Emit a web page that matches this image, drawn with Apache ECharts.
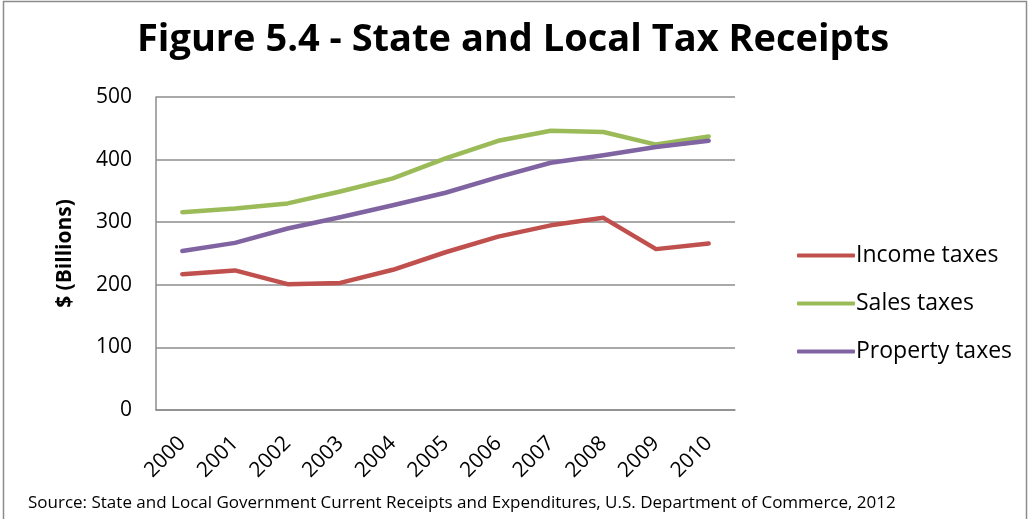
<!DOCTYPE html>
<html>
<head>
<meta charset="utf-8">
<script src="https://cdn.jsdelivr.net/npm/echarts@6/dist/echarts.min.js"></script>
<style>
  html, body { margin: 0; padding: 0; background: #fff; }
  #chart { width: 1029px; height: 519px; }
</style>
</head>
<body>
<div id="chart"></div>
<script>
// State and local tax receipts, $ billions
const years = ['2000','2001','2002','2003','2004','2005','2006','2007','2008','2009','2010'];
const incomeTaxes   = [217, 223, 201, 203, 224, 252, 277, 295, 307, 257, 266];
const salesTaxes    = [316, 322, 330, 349, 370, 402, 430, 446, 444, 424, 437];
const propertyTaxes = [254, 267, 290, 308, 327, 347, 372, 395, 407, 420, 430];
const yTicks = { min: 0, max: 500, interval: 100 };

const FONT = 'Open Sans';
const chart = echarts.init(document.getElementById('chart'));

function lineSeries(name, data, color) {
  return {
    name, type: 'line', data,
    symbol: 'none',
    lineStyle: { width: 4.5, color, cap: 'round', join: 'round' },
    itemStyle: { color }
  };
}

chart.setOption({
  animation: false,
  textStyle: { fontFamily: FONT },
  title: {
    text: 'Figure 5.4 - State and Local Tax Receipts',
    left: 508, top: 16, textAlign: 'center',
    textStyle: { fontFamily: FONT, fontWeight: 'bold', fontSize: 38, color: '#000' }
  },
  grid: { left: 156, right: 294, top: 97, bottom: 109 },
  legend: {
    orient: 'vertical',
    left: 792, top: 239,
    itemWidth: 58, itemHeight: 4,
    itemGap: 25,
    icon: 'roundRect',
    textStyle: { fontFamily: FONT, fontSize: 23, color: '#000', padding: [0, 0, 0, -4] },
    data: ['Income taxes', 'Sales taxes', 'Property taxes']
  },
  xAxis: {
    type: 'category',
    data: years,
    boundaryGap: true,
    axisLine: { lineStyle: { color: '#8c8c8c', width: 1.5 } },
    axisTick: { show: false },
    axisLabel: { rotate: 45, fontSize: 21, color: '#000', margin: 30, fontFamily: FONT }
  },
  yAxis: {
    type: 'value',
    min: yTicks.min, max: yTicks.max, interval: yTicks.interval,
    name: '$ (Billions)',
    nameLocation: 'middle',
    nameGap: 80,
    nameTextStyle: { fontSize: 21, fontWeight: 'bold', color: '#000', fontFamily: FONT },
    axisLine: { show: true, lineStyle: { color: '#8c8c8c', width: 1.5 } },
    axisTick: { show: false },
    axisLabel: { fontSize: 21, color: '#000', margin: 24, fontFamily: FONT },
    splitLine: { lineStyle: { color: '#8c8c8c', width: 1.5 } }
  },
  graphic: [
    {
      type: 'polyline', silent: true,
      shape: { points: [[3.5, 519], [3.5, 1.5], [1026.5, 1.5], [1026.5, 519]] },
      style: { stroke: '#8c8c8c', lineWidth: 1.5, fill: null }
    },
    {
      type: 'text', left: 28, top: 495, silent: true,
      style: {
        text: 'Source: State and Local Government Current Receipts and Expenditures, U.S. Department of Commerce, 2012',
        font: '17px "Open Sans"', fill: '#000'
      }
    }
  ],
  series: [
    lineSeries('Income taxes', incomeTaxes, '#C0504D'),
    lineSeries('Sales taxes', salesTaxes, '#9BBB59'),
    lineSeries('Property taxes', propertyTaxes, '#8064A2')
  ]
});
</script>
</body>
</html>
